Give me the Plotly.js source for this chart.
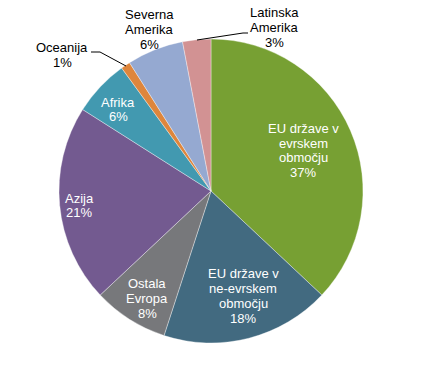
<!DOCTYPE html>
<html>
<head>
<meta charset="utf-8">
<script src="https://cdn.plot.ly/plotly-3.0.1.min.js"></script>
<style>html,body{margin:0;padding:0;background:#fff;}#chart{width:421px;height:384px;}</style>
</head>
<body>
<div id="chart"></div>
<script>
// Data
var categories = ["EU države v evrskem območju", "EU države v ne-evrskem območju", "Ostala Evropa", "Azija", "Afrika", "Oceanija", "Severna Amerika", "Latinska Amerika"];
var shares = [37, 18, 8, 21, 6, 1, 6, 3];
var labelLines = [
  ["EU države v", "evrskem", "območju"],
  ["EU države v", "ne-evrskem", "območju"],
  ["Ostala", "Evropa"],
  ["Azija"],
  ["Afrika"],
  ["Oceanija"],
  ["Severna", "Amerika"],
  ["Latinska", "Amerika"]
];
var colors = ["#77A033", "#426A80", "#77787B", "#735A90", "#4299B0", "#DE863C", "#95A9D1", "#D29293"];

// Layout (label block centres in pixels, text colour)
var W = 421, H = 384;
var M = {l: 59, r: 58, t: 39, b: 41};
var labelPos = [[303, 150.5], [243, 296], [147, 298.5], [79, 205.5], [118, 109.5], [62, 55], [149, 29.5], [274, 27.5]];
var labelColor = ["#fff", "#fff", "#fff", "#fff", "#fff", "#000", "#000", "#000"];
var lineStep = 14.7;

function px(x) { return (x - M.l) / (W - M.l - M.r); }
function py(y) { return (H - M.b - y) / (H - M.t - M.b); }

var annotations = [];
categories.forEach(function (c, i) {
  var lines = labelLines[i].concat([shares[i] + "%"]);
  var n = lines.length;
  lines.forEach(function (t, j) {
    var y = labelPos[i][1] + (j - (n - 1) / 2) * lineStep;
    annotations.push({
      x: px(labelPos[i][0]), y: py(y), xref: "paper", yref: "paper",
      text: t, showarrow: false, xanchor: "center", yanchor: "middle",
      font: {family: "Liberation Sans, Arial, sans-serif", size: 13, color: labelColor[i]}
    });
  });
});

function pathPx(pts) {
  return pts.map(function (p, k) { return (k ? "L" : "M") + px(p[0]) + "," + py(p[1]); }).join(" ");
}
var shapes = [
  {type: "path", xref: "paper", yref: "paper", path: pathPx([[91, 52], [100, 52], [126, 66]]), line: {color: "#000", width: 1}},
  {type: "path", xref: "paper", yref: "paper", path: pathPx([[248, 33], [243, 33], [197, 40]]), line: {color: "#000", width: 1}}
];

var trace = {
  type: "pie",
  labels: categories,
  values: shares,
  sort: false,
  direction: "clockwise",
  rotation: 0,
  textinfo: "none",
  hoverinfo: "none",
  marker: {colors: colors, line: {color: "rgba(255,255,255,0.6)", width: 0.6}},
  showlegend: false
};

var layout = {
  width: W, height: H,
  margin: M,
  paper_bgcolor: "#fff",
  plot_bgcolor: "#fff",
  showlegend: false,
  annotations: annotations,
  shapes: shapes
};

Plotly.newPlot("chart", [trace], layout, {staticPlot: true, displayModeBar: false});
</script>
</body>
</html>
